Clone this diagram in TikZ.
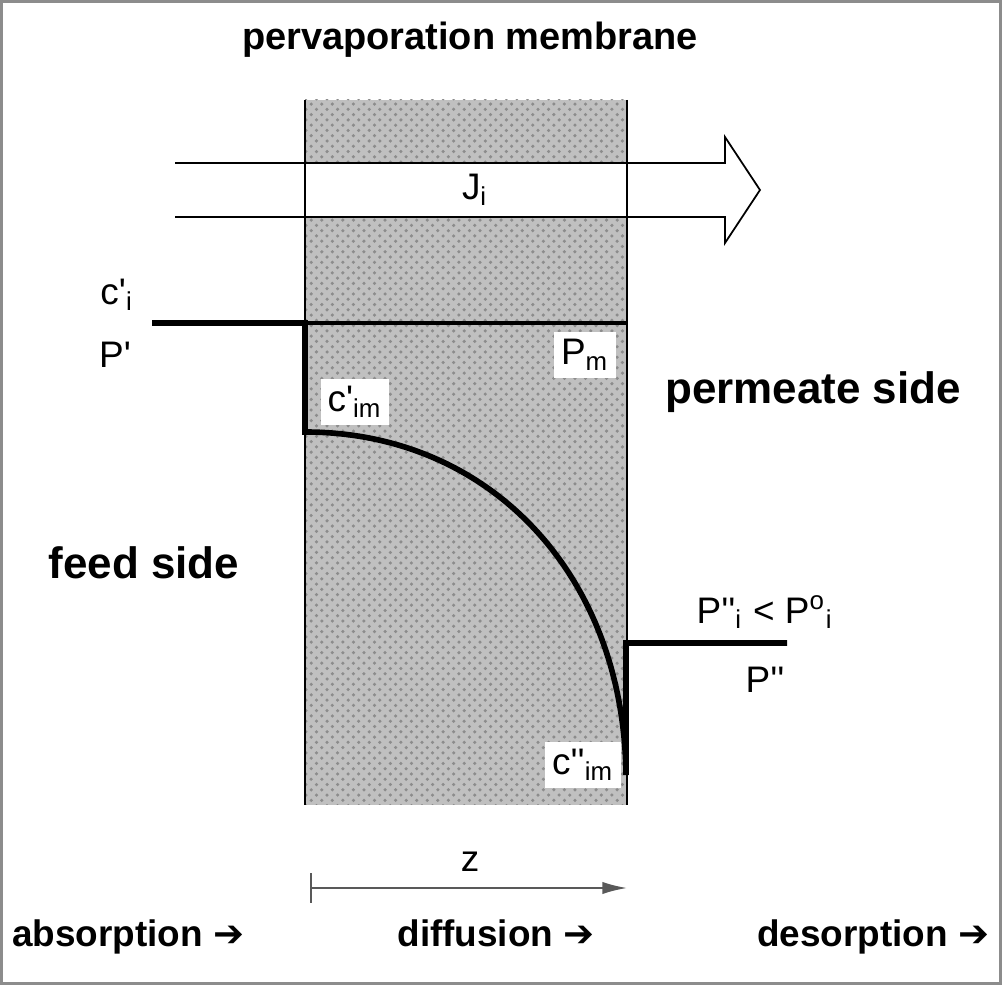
\documentclass[tikz,border=0pt]{standalone}
\usepackage{fontspec}
\setmainfont{Liberation Sans}
\newfontfamily\symfont{DejaVu Sans}
\usetikzlibrary{arrows.meta,patterns}
\definecolor{framegray}{HTML}{8C8C8C}
\definecolor{membranegray}{HTML}{C0C0C0}

\begin{document}
\begin{tikzpicture}[x=0.01cm, y=-0.01cm,
    lbl/.style={font=\fontsize{10.5}{12}\selectfont, inner sep=1pt},
    boxlbl/.style={lbl, fill=white, inner sep=2pt},
    sidelbl/.style={font=\fontsize{12.5}{15}\selectfont\bfseries},
    steplbl/.style={font=\fontsize{10.5}{13}\selectfont\bfseries, anchor=base},
    profile/.style={line width=1.6pt, line join=miter},
    fluxline/.style={line width=0.5pt},
    zaxis/.style={line width=0.5pt, black!65, {Bar[width=8.5pt]}-{Latex[length=7pt, width=3.5pt]}}]
  \useasboundingbox (0,0) rectangle (1002,985);
  \draw[framegray, line width=1.2pt] (1,1) rectangle (1001,984);
  % membrane
  \coordinate (mtl) at (305,100);
  \coordinate (mbr) at (627,805);
  \fill[membranegray] (mtl) rectangle (mbr);
  \fill[pattern=crosshatch dots, pattern color=black!45] (mtl) rectangle (mbr);
  \fill[white] (305,163) rectangle (627,217);
  \draw[fluxline] (mtl) -- (305,805);
  \draw[fluxline] (627,100) -- (mbr);
  \node[font=\fontsize{10.8}{12}\selectfont\bfseries] (title) at (470,40) {pervaporation membrane};
  % flux arrow
  \coordinate (fluxtop) at (175,163);
  \coordinate (fluxbot) at (175,217);
  \coordinate (fluxtip) at (760,190);
  \draw[fluxline, line join=miter] (fluxtop) -- (725,163) -- (725,137) -- (fluxtip)
    -- (725,243) -- (725,217) -- (fluxbot);
  \node[lbl] (flux) at (475,190) {J\textsubscript{i}};
  % concentration profile
  \coordinate (feedend) at (152,323);
  \coordinate (cfeed) at (305,323);
  \coordinate (cmin) at (305,432);
  \coordinate (cmout) at (626,775);
  \coordinate (pstart) at (626,643);
  \coordinate (pend) at (787,643);
  \coordinate (mline) at (627,323);
  \draw[line width=0.9pt] (cfeed) -- (mline);
  \draw[profile] (feedend) -- (cfeed) -- (cmin) .. controls (490,432) and (624,575) .. (cmout)
    -- (pstart) -- (pend);
  % labels
  \node[lbl] (cfeedlbl) at (117,295) {c\textquotesingle\textsubscript{i}};
  \node[lbl] (pfeedlbl) at (115,355) {P\textquotesingle};
  \node[boxlbl] (cminlbl) at (355,402) {c\textquotesingle\textsubscript{im}};
  \node[boxlbl] (pmlbl) at (585,355) {P\textsubscript{m}};
  \node[boxlbl] (cmoutlbl) at (583,765) {c\textquotesingle\textquotesingle\textsubscript{im}};
  \node[lbl] (ppermlbl) at (765,612) {P\textquotesingle\textquotesingle\textsubscript{i} < P\textsuperscript{o}\textsubscript{i}};
  \node[lbl] (pendlbl) at (765,680) {P\textquotesingle\textquotesingle};
  \node[sidelbl] (permeate) at (813,392) {permeate side};
  \node[sidelbl] (feed) at (144,563) {feed side};
  % z axis
  \coordinate (zs) at (310,888);
  \coordinate (ze) at (627,888);
  \draw[zaxis] (zs) -- (ze);
  \node[lbl] (zlbl) at (470,862) {z};
  % steps
  \node[steplbl] (absorb) at (128,947) {absorption {\symfont\bfseries ➔}};
  \node[steplbl] (diffuse) at (496,947) {diffusion {\symfont\bfseries ➔}};
  \node[steplbl] (desorb) at (873,947) {desorption {\symfont\bfseries ➔}};
\end{tikzpicture}
\end{document}
